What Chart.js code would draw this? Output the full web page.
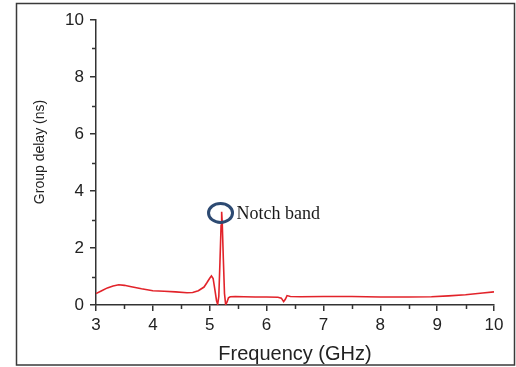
<!DOCTYPE html>
<html>
<head>
<meta charset="utf-8">
<script src="https://cdn.jsdelivr.net/npm/chart.js@4/dist/chart.umd.min.js"></script>
<style>
html,body{margin:0;padding:0;background:#fff;}
#wrap{width:516px;height:367px;position:relative;}
</style>
</head>
<body>
<div id="wrap"><canvas id="c" width="516" height="367"></canvas></div>
<script>
// Frequency (GHz)
const freq = [3.0,3.1,3.2,3.3,3.4,3.5,3.6,3.8,4.0,4.2,4.4,4.6,4.7,4.8,4.9,4.95,5.0,5.03,5.06,5.09,5.12,5.14,5.16,5.18,5.2,5.21,5.22,5.24,5.26,5.28,5.3,5.33,5.36,5.45,5.6,5.8,6.0,6.2,6.26,6.3,6.33,6.36,6.42,6.6,7.0,7.5,8.0,8.5,8.9,9.2,9.5,9.8,10.0];
// Group delay (ns)
const delay = [0.40,0.50,0.60,0.67,0.71,0.69,0.65,0.57,0.50,0.48,0.46,0.43,0.44,0.50,0.63,0.78,0.94,1.02,0.93,0.55,0.15,0.02,0.3,1.5,2.8,3.27,2.9,1.6,0.4,0.02,0.08,0.25,0.29,0.30,0.29,0.28,0.28,0.27,0.24,0.12,0.2,0.33,0.30,0.29,0.30,0.30,0.28,0.28,0.29,0.32,0.36,0.42,0.46];
const xTicks = [3,4,5,6,7,8,9,10];
const yTicks = [0,2,4,6,8,10];
const xMinor = [3.5,4.5,5.5,6.5,7.5,8.5,9.5];
const yMinor = [1,3,5,7,9];
const xTitle = "Frequency (GHz)";
const yTitle = "Group delay (ns)";
const noteText = "Notch band";
const notePos = [5.19, 3.23];

const points = freq.map((f,i)=>({x:f,y:delay[i]}));

const extras = {
  id:'extras',
  beforeDraw(chart){
    const ctx = chart.ctx;
    ctx.save();
    ctx.fillStyle = '#fff';
    ctx.fillRect(0,0,chart.width,chart.height);
    ctx.restore();
  },
  afterDraw(chart){
    const ctx = chart.ctx;
    const xs = chart.scales.x, ys = chart.scales.y;
    ctx.save();
    // minor ticks
    ctx.strokeStyle = '#333'; ctx.lineWidth = 1.5;
    ctx.beginPath();
    xMinor.forEach(v=>{const p=Math.round(xs.getPixelForValue(v))+0.5; ctx.moveTo(p, ys.bottom); ctx.lineTo(p, ys.bottom+4);});
    yMinor.forEach(v=>{const p=Math.round(ys.getPixelForValue(v))+0.5; ctx.moveTo(xs.left, p); ctx.lineTo(xs.left-4, p);});
    ctx.stroke();
    // y axis title
    ctx.save();
    ctx.translate(40, 152);
    ctx.rotate(-Math.PI/2);
    ctx.fillStyle = '#222';
    ctx.font = '14px "Liberation Sans", Arial, sans-serif';
    ctx.textAlign = 'center'; ctx.textBaseline = 'middle';
    ctx.fillText(yTitle, 0, 0);
    ctx.restore();
    // notch ellipse
    const cx = xs.getPixelForValue(notePos[0]), cy = ys.getPixelForValue(notePos[1]);
    ctx.strokeStyle = '#2d4a72'; ctx.lineWidth = 3;
    ctx.beginPath(); ctx.ellipse(cx, cy, 12, 9.5, 0, 0, Math.PI*2); ctx.stroke();
    ctx.fillStyle = '#1a1a1a';
    ctx.font = '18px "Liberation Serif", "Times New Roman", serif';
    ctx.textBaseline = 'middle'; ctx.textAlign = 'left';
    ctx.fillText(noteText, cx+16, cy+1);
    // frame
    ctx.strokeStyle = '#3a3a3a'; ctx.lineWidth = 1.5;
    ctx.strokeRect(16.5, 3.5, 498, 361.5);
    ctx.restore();
  }
};

new Chart(document.getElementById('c'), {
  type: 'line',
  data: { datasets: [{ data: points, borderColor: '#e2232a', borderWidth: 1.6, pointRadius: 0, fill: false, tension: 0 }] },
  options: {
    responsive: false, animation: false, devicePixelRatio: 1,
    plugins: { legend: {display:false}, tooltip: {enabled:false} },
    layout: { padding: { left: 0, right: 22, top: 20, bottom: 0 } },
    scales: {
      x: {
        type: 'linear', min: 3, max: 10,
        afterBuildTicks: s => { s.ticks = xTicks.map(v=>({value:v})); },
        afterFit: s => { s.height = 62; },
        grid: { display: true, drawOnChartArea: false, drawTicks: true, tickLength: 6, color: '#333', lineWidth: 1.5 },
        border: { display: true, color: '#333', width: 1.5 },
        ticks: { color: '#222', font: { family: '"Liberation Sans", Arial, sans-serif', size: 17 }, padding: 4, maxRotation: 0 },
        title: { display: true, text: xTitle, color: '#222', font: { family: '"Liberation Sans", Arial, sans-serif', size: 20 }, padding: { top: 0, bottom: 1 } }
      },
      y: {
        type: 'linear', min: 0, max: 10,
        afterBuildTicks: s => { s.ticks = yTicks.map(v=>({value:v})); },
        afterFit: s => { s.width = 96; },
        grid: { display: true, drawOnChartArea: false, drawTicks: true, tickLength: 6, color: '#333', lineWidth: 1.5 },
        border: { display: true, color: '#333', width: 1.5 },
        ticks: { color: '#222', font: { family: '"Liberation Sans", Arial, sans-serif', size: 17 }, padding: 6 },
        title: { display: false }
      }
    }
  },
  plugins: [extras]
});
</script>
</body>
</html>
